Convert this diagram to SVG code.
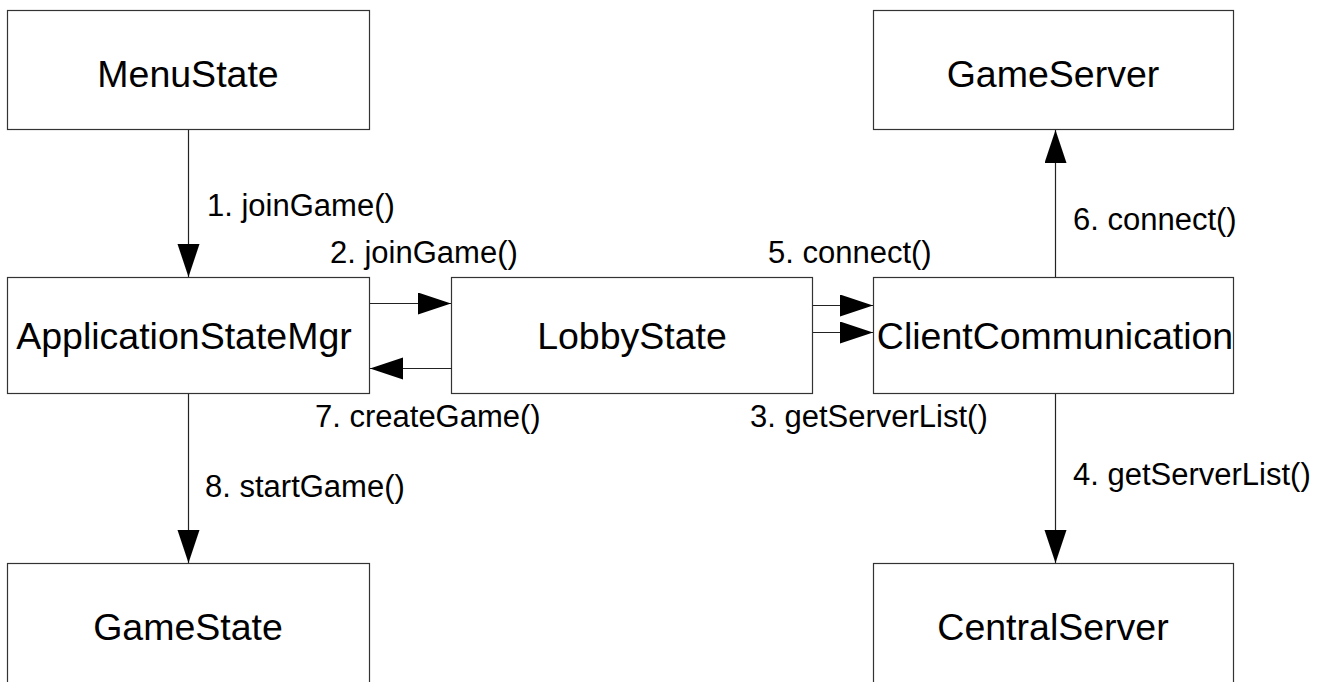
<svg xmlns="http://www.w3.org/2000/svg" width="1332" height="682" viewBox="0 0 1332 682">
<style>
.box{fill:#fff;stroke:#333;stroke-width:1.2}
.node{font-family:"Liberation Sans",Arial,sans-serif;font-size:37.5px;fill:#000;text-anchor:middle}
.lbl{font-family:"Liberation Sans",Arial,sans-serif;font-size:31px;fill:#000}
.con{stroke:#222;stroke-width:1.2;fill:none;marker-end:url(#ah)}
</style>
<defs>
<marker id="ah" markerUnits="userSpaceOnUse" markerWidth="34" markerHeight="24" refX="33" refY="11" orient="auto">
<path d="M0,0 L33,11 L0,22 Z" fill="#000"/>
</marker>
</defs>
<rect width="1332" height="682" fill="#fff"/>
<g id="MenuState"><rect class="box" x="7.5" y="10.5" width="362" height="119"/><text class="node" x="188" y="87">MenuState</text></g>
<g id="GameServer"><rect class="box" x="873.5" y="10.5" width="360" height="119"/><text class="node" x="1053" y="87">GameServer</text></g>
<g id="ApplicationStateMgr"><rect class="box" x="7.5" y="277.5" width="362" height="116"/><text class="node" x="184" y="349">ApplicationStateMgr</text></g>
<g id="LobbyState"><rect class="box" x="451.5" y="277.5" width="361" height="116"/><text class="node" x="632" y="349">LobbyState</text></g>
<g id="ClientCommunication"><rect class="box" x="873.5" y="277.5" width="360" height="116"/><text class="node" x="1055" y="349">ClientCommunication</text></g>
<g id="GameState"><rect class="box" x="7.5" y="563.5" width="362" height="140"/><text class="node" x="188" y="640">GameState</text></g>
<g id="CentralServer"><rect class="box" x="873.5" y="563.5" width="360" height="140"/><text class="node" x="1053" y="640">CentralServer</text></g>
<g id="connectors">
<line class="con" x1="188.5" y1="130" x2="188.5" y2="277"/>
<line class="con" x1="370" y1="303.5" x2="451" y2="303.5"/>
<line class="con" x1="452" y1="368.5" x2="370" y2="368.5"/>
<line class="con" x1="813" y1="305.5" x2="873" y2="305.5"/>
<line class="con" x1="813" y1="332.5" x2="873" y2="332.5"/>
<line class="con" x1="1055.5" y1="277" x2="1055.5" y2="130"/>
<line class="con" x1="1055.5" y1="394" x2="1055.5" y2="563"/>
<line class="con" x1="188.5" y1="394" x2="188.5" y2="563"/>
<text class="lbl" x="207" y="216">1. joinGame()</text>
<text class="lbl" x="330" y="263">2. joinGame()</text>
<text class="lbl" x="768" y="263">5. connect()</text>
<text class="lbl" x="1073" y="230">6. connect()</text>
<text class="lbl" x="315" y="427">7. createGame()</text>
<text class="lbl" x="750" y="427">3. getServerList()</text>
<text class="lbl" x="1073" y="485">4. getServerList()</text>
<text class="lbl" x="205" y="497">8. startGame()</text>
</g>
</svg>
